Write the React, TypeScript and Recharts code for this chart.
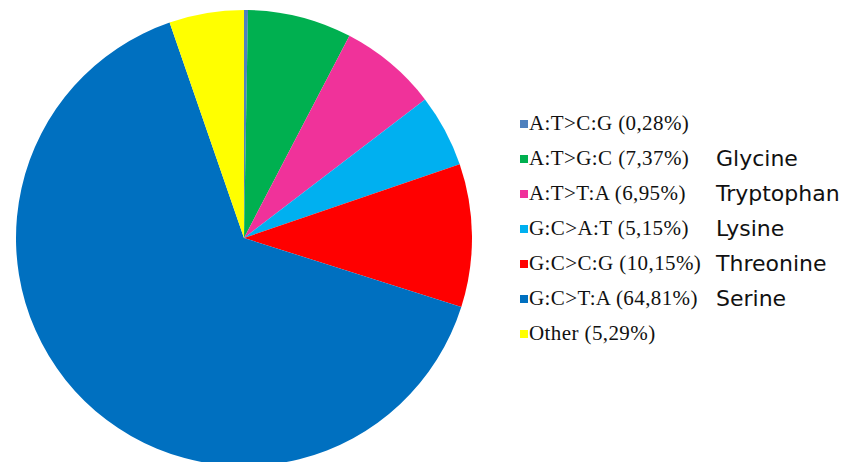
import React from "react";
import { PieChart, Pie, Cell, Legend } from "recharts";

const mutations = ["A:T>C:G", "A:T>G:C", "A:T>T:A", "G:C>A:T", "G:C>C:G", "G:C>T:A", "Other"];
const percents = [0.28, 7.37, 6.95, 5.15, 10.15, 64.81, 5.29];
const aminoAcids = ["", "Glycine", "Tryptophan", "Lysine", "Threonine", "Serine", ""];
const colors = ["#4F81BD", "#00B050", "#F0329A", "#00B0F0", "#FF0000", "#0070C0", "#FFFF00"];

const data = mutations.map((m, i) => ({ name: m, value: percents[i] }));

const fmt = (v: number) => v.toFixed(2).replace(".", ",");

const LegendContent = () => (
  <div style={{ position: "relative" }}>
    {mutations.map((m, i) => (
      <div
        key={m}
        style={{ height: 35, display: "flex", alignItems: "center", whiteSpace: "nowrap" }}
      >
        <span
          style={{ display: "inline-block", width: 8, height: 8, background: colors[i], marginRight: 1 }}
        />
        <span
          style={{
            fontFamily: "'Liberation Serif', serif",
            fontSize: 21,
            color: "#111",
            width: 187,
            letterSpacing: 0.4,
          }}
        >
          {m} ({fmt(percents[i])}%)
        </span>
        <span style={{ fontFamily: "'DejaVu Sans', sans-serif", fontSize: 22, color: "#111" }}>
          {aminoAcids[i]}
        </span>
      </div>
    ))}
  </div>
);

export default function App() {
  return (
    <div style={{ position: "absolute", left: 0, top: 0, background: "#fff" }}>
      <PieChart width={841} height={462} margin={{ top: 0, right: 0, bottom: 0, left: 0 }}>
        <Pie
          data={data}
          dataKey="value"
          nameKey="name"
          cx={244}
          cy={238}
          outerRadius={228}
          startAngle={90}
          endAngle={-270}
          stroke="none"
          isAnimationActive={false}
        >
          {data.map((d, i) => (
            <Cell key={d.name} fill={colors[i]} />
          ))}
        </Pie>
        <Legend
          content={<LegendContent />}
          wrapperStyle={{ left: 520, top: 106, width: 321 }}
          layout="vertical"
          verticalAlign="middle"
          align="right"
        />
      </PieChart>
    </div>
  );
}
